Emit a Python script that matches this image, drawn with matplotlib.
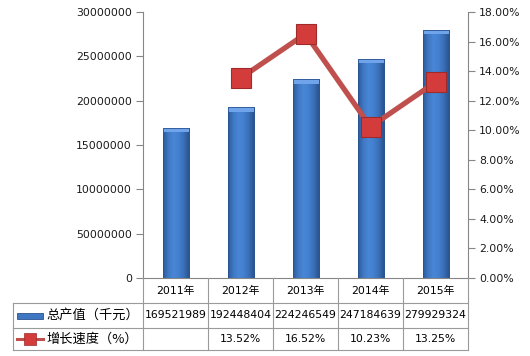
import matplotlib
matplotlib.use("Agg")
import matplotlib.pyplot as plt
from matplotlib.patches import Rectangle
from matplotlib.lines import Line2D
import numpy as np

plt.rcParams['font.family'] = ['DejaVu Sans', 'Noto Sans CJK SC']

years = ["2011年", "2012年", "2013年", "2014年", "2015年"]
output_values = [16952199, 19244840, 22424655, 24718464, 27992932]
output_labels = ["169521989", "192448404", "224246549", "247184639", "279929324"]
growth = [np.nan, 13.52, 16.52, 10.23, 13.25]
growth_labels = ["", "13.52%", "16.52%", "10.23%", "13.25%"]
left_ticks = [0, 5000000, 10000000, 15000000, 20000000, 25000000, 30000000]
left_tick_labels = ["0", "50000000", "10000000", "15000000", "20000000", "25000000", "30000000"]
right_ticks = [0, 2, 4, 6, 8, 10, 12, 14, 16, 18]
series_names = ["总产值（千元）", "增长速度（%）"]

W, H = 530, 356
fig = plt.figure(figsize=(W / 100, H / 100), dpi=100)

def fx(px):
    return px / W

def fy(py):
    return 1 - py / H

ax_l, ax_r, ax_t, ax_b = 143, 468, 12, 278
ax = fig.add_axes([fx(ax_l), fy(ax_b), (ax_r - ax_l) / W, (ax_b - ax_t) / H])
ax.set_xlim(-0.5, len(years) - 0.5)
ax.set_ylim(0, 30000000)

axis_color = '#868686'
fs = 7.8

# bars with gradient
grad = np.linspace(0, 1, 64)
cmap = matplotlib.colors.LinearSegmentedColormap.from_list(
    'b', ['#2C5A9A', '#3F78C4', '#4A86D6', '#4380CF', '#3A70B8', '#2B5592'])
bw = 0.4
for i, v in enumerate(output_values):
    rect = Rectangle((i - bw / 2, 0), bw, v, facecolor='#3E76C2', edgecolor='#2A5290', lw=0.6, zorder=2)
    ax.add_patch(rect)
    im = ax.imshow(grad[np.newaxis, :], extent=(i - bw / 2, i + bw / 2, 0, v), aspect='auto',
                   cmap=cmap, zorder=2.1, interpolation='bilinear')
    im.set_clip_path(rect)
    cap = Rectangle((i - bw / 2, v - 500000), bw, 500000, facecolor='#6FA4EA', edgecolor='none', zorder=2.2)
    ax.add_patch(cap)
    ax.add_patch(Rectangle((i - bw / 2, 0), bw, v, facecolor='none', edgecolor='#2A5290', lw=0.6, zorder=2.3))
ax.set_xlim(-0.5, len(years) - 0.5)
ax.set_ylim(0, 30000000)

ax.set_yticks(left_ticks)
ax.set_yticklabels(left_tick_labels, fontsize=fs, color='#1a1a1a')
ax.set_xticks([])
ax.tick_params(axis='y', direction='out', length=5, color=axis_color, pad=3)
for s in ['top', 'right']:
    ax.spines[s].set_visible(False)
ax.spines['left'].set_color(axis_color)
ax.spines['bottom'].set_color(axis_color)
ax.patch.set_alpha(0)

ax2 = ax.twinx()
ax2.set_ylim(0, 18)
ax2.set_yticks(right_ticks)
ax2.set_yticklabels([f"{t:.2f}%" for t in right_ticks], fontsize=fs, color='#1a1a1a')
ax2.tick_params(axis='y', direction='out', length=5, color=axis_color, pad=3)
for s in ['top', 'left', 'bottom']:
    ax2.spines[s].set_visible(False)
ax2.spines['right'].set_color(axis_color)
x = np.arange(len(years))
ax2.plot(x, growth, color='#C0504D', lw=3.8, zorder=3, solid_joinstyle='miter')
ax2.plot(x, growth, linestyle='none', marker='s', markersize=14, markerfacecolor='#D43C3C',
         markeredgecolor='#9E2A2A', markeredgewidth=0.8, zorder=4)

# table
tc = '#9a9a9a'
rows_y = [278, 303, 328, 350]
col_edges = [ax_l + i * (ax_r - ax_l) / len(years) for i in range(len(years) + 1)]
tbl_left = 13

def hline(y, x0, x1):
    fig.add_artist(Line2D([fx(x0), fx(x1)], [fy(y), fy(y)], color=tc, lw=0.8))

def vline(x, y0, y1):
    fig.add_artist(Line2D([fx(x), fx(x)], [fy(y0), fy(y1)], color=tc, lw=0.8))

hline(rows_y[1], tbl_left, ax_r)
hline(rows_y[2], tbl_left, ax_r)
hline(rows_y[3], tbl_left, ax_r)
for cx in col_edges:
    vline(cx, rows_y[0], rows_y[3])
vline(tbl_left, rows_y[1], rows_y[3])

for i, yr in enumerate(years):
    cx = (col_edges[i] + col_edges[i + 1]) / 2
    fig.text(fx(cx), fy((rows_y[0] + rows_y[1]) / 2), yr, ha='center', va='center', fontsize=fs)
    fig.text(fx(cx), fy((rows_y[1] + rows_y[2]) / 2), output_labels[i], ha='center', va='center', fontsize=fs)
    fig.text(fx(cx), fy((rows_y[2] + rows_y[3]) / 2), growth_labels[i], ha='center', va='center', fontsize=fs)

# legend keys
ym1 = (rows_y[1] + rows_y[2]) / 2
fig.add_artist(Rectangle((fx(17), fy(ym1 + 3)), (43 - 17) / W, 6 / H, facecolor='#3E76C2',
                         edgecolor='#2A5290', lw=0.6))
fig.text(fx(46), fy(ym1), series_names[0], ha='left', va='center', fontsize=9.5,
         family=['Noto Sans CJK SC', 'DejaVu Sans'])
ym2 = (rows_y[2] + rows_y[3]) / 2
fig.add_artist(Line2D([fx(17), fx(43)], [fy(ym2), fy(ym2)], color='#C0504D', lw=2.2))
fig.add_artist(Line2D([fx(30)], [fy(ym2)], marker='s', markersize=8.5, markerfacecolor='#D43C3C',
                      markeredgecolor='#9E2A2A', markeredgewidth=0.5))
fig.text(fx(46), fy(ym2), series_names[1], ha='left', va='center', fontsize=9.5,
         family=['Noto Sans CJK SC', 'DejaVu Sans'])

fig.savefig("out.png", dpi=100)
